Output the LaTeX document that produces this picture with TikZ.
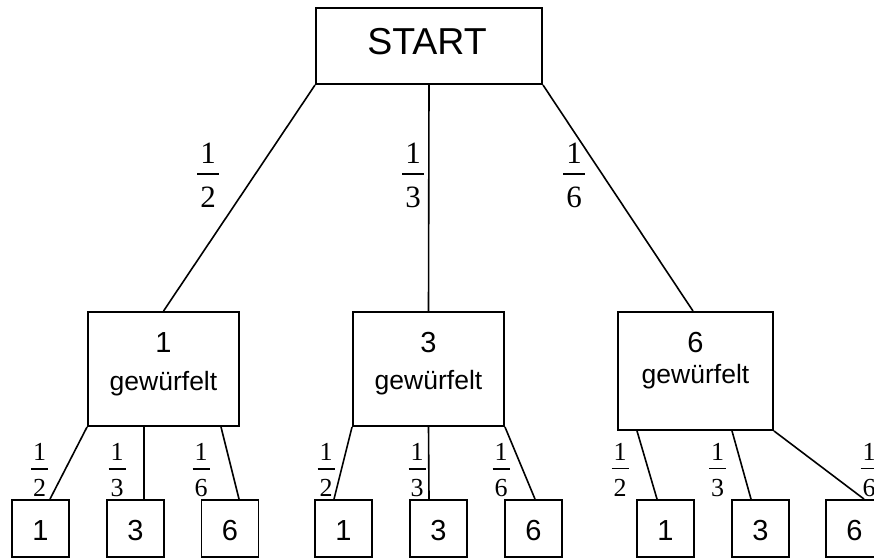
\documentclass[tikz,border=0pt]{standalone}
\usepackage{fontspec}
\setmainfont{Liberation Sans}
\newfontfamily\serifdigits{Liberation Serif}
\begin{document}
\begin{tikzpicture}[x=1pt,y=-1pt,
  box/.style={draw,line width=1.9pt,inner sep=0pt,anchor=center},
  leaf/.style={box,minimum width=57pt,minimum height=57pt},
  mid/.style={box,minimum width=151pt,minimum height=114pt},
  conn/.style={line width=1.6pt},
  leaftxt/.style={anchor=base,inner sep=0pt,font=\fontsize{29}{29}\selectfont},
  bnum/.style={anchor=base,inner sep=0pt,font=\serifdigits\fontsize{31}{31}\selectfont},
  snum/.style={anchor=base,inner sep=0pt,font=\serifdigits\fontsize{26}{26}\selectfont},
  bbar/.style={line width=1.5pt},
  sbar/.style={line width=1.2pt},
  numtxt/.style={anchor=base,inner sep=0pt,font=\fontsize{29}{29}\selectfont},
  gtxt/.style={anchor=base,inner sep=0pt,font=\fontsize{26.5}{26.5}\selectfont}]
\newcommand{\bigfr}[4]{%
  \node[bnum] (#1n) at (#2,163) {#3};
  \draw[bbar] (#2-11,174) -- (#2+11,174);
  \node[bnum] (#1d) at (#2,207) {#4};}
\newcommand{\smallfr}[6]{% name x num den numbase barY
  \node[snum] (#1n) at (#2,#5) {#3};
  \draw[sbar] (#2-8.5,#6) -- (#2+8.5,#6);
  \node[snum] (#1d) at (#2,496.7) {#4};}
\useasboundingbox (0,0) rectangle (874,558);
% top
\node[box,minimum width=226pt,minimum height=76pt] (start) at (429,46) {};
\node[anchor=base,inner sep=0pt,font=\fontsize{37.5}{37.5}\selectfont] (starttxt) at (427,54) {START};
% middle boxes
\node[mid] (b1) at (163.5,369) {};
\node[mid] (b3) at (428.5,369) {};
\node[mid,minimum width=155pt,minimum height=118pt] (b6) at (695.5,371) {};
\node[numtxt] (b1a) at (163.5,352) {1};
\node[gtxt] (b1b) at (163.5,390) {gewürfelt};
\node[numtxt] (b3a) at (428.5,352) {3};
\node[gtxt] (b3b) at (428.5,389) {gewürfelt};
\node[numtxt] (b6a) at (695.5,352) {6};
\node[gtxt] (b6b) at (695.5,383) {gewürfelt};
% leaves
\node[leaf] (l11) at (40.5,528.5) {};
\node[leaf] (l13) at (135.5,528.5) {};
\node[leaf] (l16) at (230,528.5) {};
\node[leaf] (l31) at (343.5,528.5) {};
\node[leaf] (l33) at (438.5,528.5) {};
\node[leaf] (l36) at (533.5,528.5) {};
\node[leaf] (l61) at (665.5,528.5) {};
\node[leaf] (l63) at (760.5,528.5) {};
\node[leaf] (l66) at (854.5,528.5) {};
\node[leaftxt] (t11) at (40.5,540) {1};
\node[leaftxt] (t13) at (135.5,540) {3};
\node[leaftxt] (t16) at (230,540) {6};
\node[leaftxt] (t31) at (343.5,540) {1};
\node[leaftxt] (t33) at (438.5,540) {3};
\node[leaftxt] (t36) at (533.5,540) {6};
\node[leaftxt] (t61) at (665.5,540) {1};
\node[leaftxt] (t63) at (760.5,540) {3};
\node[leaftxt] (t66) at (854.5,540) {6};
% connectors top
\draw[conn] (start.south west) -- (b1.north);
\draw[conn] (start.south) -- (b3.north);
\draw[conn] (start.south east) -- ([xshift=-2.5pt]b6.north);
% connectors group 1
\draw[conn] (b1.south west) -- ([xshift=9.5pt]l11.north);
\draw[conn] ([xshift=-19.5pt]b1.south) -- ([xshift=8.5pt]l13.north);
\draw[conn] ([xshift=57.5pt]b1.south) -- ([xshift=9pt]l16.north);
% group 3
\draw[conn] (b3.south west) -- ([xshift=-9.5pt]l31.north);
\draw[conn] (b3.south) -- ([xshift=-9.5pt]l33.north);
\draw[conn] (b3.south east) -- ([xshift=1.5pt]l36.north);
% group 6
\draw[conn] ([xshift=-58.5pt]b6.south) -- ([xshift=-8.5pt]l61.north);
\draw[conn] ([xshift=36.5pt]b6.south) -- ([xshift=-9.5pt]l63.north);
\draw[conn] (b6.south east) -- ([xshift=9.5pt]l66.north);
% fractions
\bigfr{f1}{208}{1}{2}
\bigfr{f2}{413}{1}{3}
\bigfr{f3}{574}{1}{6}
\smallfr{g11}{39.5}{1}{2}{460}{469}
\smallfr{g12}{117}{1}{3}{460}{469}
\smallfr{g13}{201}{1}{6}{460}{469}
\smallfr{g31}{326}{1}{2}{460}{469}
\smallfr{g32}{417}{1}{3}{460}{469}
\smallfr{g33}{501}{1}{6}{460}{469}
\smallfr{g61}{620}{1}{2}{460.5}{468.5}
\smallfr{g62}{717.5}{1}{3}{460.5}{468.5}
\smallfr{g63}{869}{1}{6}{460.5}{468.5}
\end{tikzpicture}
\end{document}
